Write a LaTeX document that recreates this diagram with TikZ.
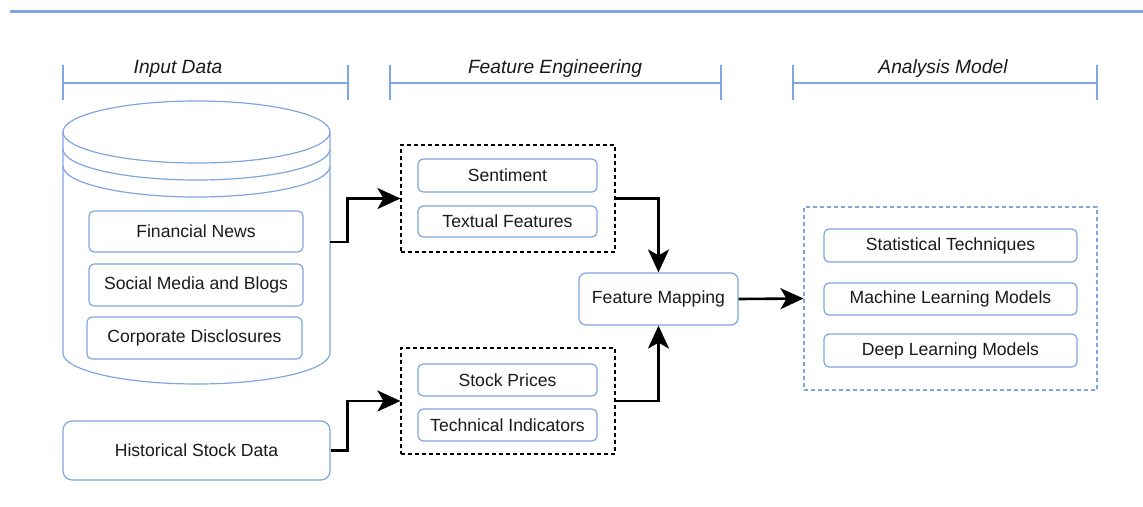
\documentclass[tikz,border=0pt]{standalone}
\usepackage{fontspec}
\setmainfont{Liberation Sans}
\usetikzlibrary{arrows.meta}
\definecolor{dblue}{HTML}{7EA6E0}
\definecolor{txt}{HTML}{1A1A1A}
\begin{document}
\begin{tikzpicture}[x=1pt,y=-1pt,
  every node/.style={text=txt, font=\fontsize{17.6}{20}\selectfont},
  bluebox/.style={draw=dblue, line width=1.2pt, rounded corners=5pt, fill=white, inner sep=0pt},
  groupbox/.style={draw=black, line width=1.1pt, dash pattern=on 4pt off 3pt, inner sep=0pt},
  agroupbox/.style={draw=dblue, line width=1.1pt, dash pattern=on 4pt off 3pt, inner sep=0pt},
  span/.style={draw=dblue, line width=2.2pt},
  spantitle/.style={anchor=base, font=\fontsize{19.2}{22}\selectfont\itshape},
  flow/.style={draw=black, line width=2.6pt, -{Stealth[length=23pt,width=21pt,inset=6pt]}},
  cyl/.style={draw=dblue, line width=1.2pt}
]
\useasboundingbox (0,0) rectangle (1143,506);
% top rule
\draw[span, line width=2.6pt] (10,11.5) -- (1143,11.5);
% spans
\draw[span] (63,65) -- (63,100) (63,83) -- (348,83) (348,65) -- (348,100);
\node[spantitle] (t1) at (178,73) {Input Data};
\draw[span] (390,65) -- (390,100) (390,83) -- (721,83) (721,65) -- (721,100);
\node[spantitle] (t2) at (555,73) {Feature Engineering};
\draw[span] (793,65) -- (793,100) (793,83) -- (1097,83) (1097,65) -- (1097,100);
\node[spantitle] (t3) at (943,73) {Analysis Model};
% cylinder
\draw[cyl] (63,132) -- (63,353) arc[start angle=180, end angle=0, x radius=133.5, y radius=31] -- (330,132);
\draw[cyl] (196.5,132) ellipse[x radius=133.5, y radius=31];
\draw[cyl] (63,149) arc[start angle=180, end angle=0, x radius=133.5, y radius=31];
\draw[cyl] (63,166) arc[start angle=180, end angle=0, x radius=133.5, y radius=31];
\node[inner sep=0pt, minimum width=267pt, minimum height=284pt] (db) at (196.5,242) {};
\node[bluebox, minimum width=214pt, minimum height=41pt] (news) at (196,231.5) {Financial News};
\node[bluebox, minimum width=214pt, minimum height=42pt] (social) at (196,285) {Social Media and Blogs};
\node[bluebox, minimum width=215pt, minimum height=42pt] (corp) at (194.5,338) {Corporate Disclosures};
\node[bluebox, rounded corners=9pt, minimum width=267pt, minimum height=59pt] (hist) at (196.5,450.5) {Historical Stock Data};
% feature engineering
\node[groupbox, minimum width=214pt, minimum height=107pt] (feat1) at (508,198.5) {};
\node[bluebox, minimum width=179pt, minimum height=33pt] (sent) at (507.5,175.5) {Sentiment};
\node[bluebox, minimum width=179pt, minimum height=31pt] (textf) at (507.5,221.5) {Textual Features};
\node[groupbox, minimum width=214pt, minimum height=106pt] (feat2) at (508,401) {};
\node[bluebox, minimum width=179pt, minimum height=32pt] (stock) at (507.5,380) {Stock Prices};
\node[bluebox, minimum width=179pt, minimum height=32pt] (tech) at (507.5,425) {Technical Indicators};
\node[bluebox, rounded corners=7pt, minimum width=159pt, minimum height=52pt] (fm) at (658.5,299) {Feature Mapping};
% analysis model
\node[agroupbox, minimum width=293pt, minimum height=183pt] (am) at (950.5,298.5) {};
\node[bluebox, minimum width=253pt, minimum height=33pt] (stat) at (950.5,245.5) {Statistical Techniques};
\node[bluebox, minimum width=253pt, minimum height=32pt] (ml) at (950.5,299) {Machine Learning Models};
\node[bluebox, minimum width=253pt, minimum height=33pt] (dl) at (950.5,350.5) {Deep Learning Models};
% connectors
\draw[flow] (db.east) -- ++(17,0) |- (feat1.west);
\draw[flow] (hist.east) -- ++(17,0) |- (feat2.west);
\draw[flow] (feat1.east) -| (fm.north);
\draw[flow] (feat2.east) -| (fm.south);
\draw[flow] (fm.east) -- (am.west);
\end{tikzpicture}
\end{document}
